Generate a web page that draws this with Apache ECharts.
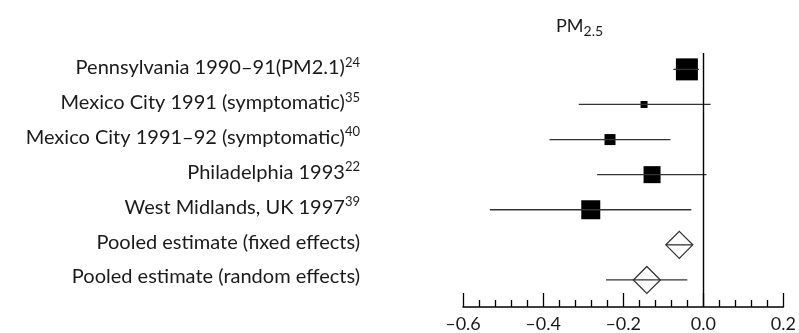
<!DOCTYPE html>
<html>
<head>
<meta charset="utf-8">
<script src="https://cdn.jsdelivr.net/npm/echarts@6/dist/echarts.min.js"></script>
<style>
  html, body { margin: 0; padding: 0; background: #fff; }
  #chart { width: 799px; height: 333px; }
</style>
</head>
<body>
<div id="chart"></div>
<script>
// studies + pooled rows, top to bottom
const studyNames = [
  'Pennsylvania 1990–91(PM2.1)',
  'Mexico City 1991 (symptomatic)',
  'Mexico City 1991–92 (symptomatic)',
  'Philadelphia 1993',
  'West Midlands, UK 1997',
  'Pooled estimate (fixed effects)',
  'Pooled estimate (random effects)'
];
const refs = ['24', '35', '40', '22', '39', '', ''];

// point estimates and confidence limits
const estimates = [-0.041, -0.148, -0.233, -0.128, -0.281, -0.060, -0.141];
const lower = [-0.075, -0.311, -0.384, -0.265, -0.533, -0.093, -0.243];
const upper = [-0.011, 0.018, -0.082, 0.008, -0.030, -0.027, -0.040];
// relative study weights (square size)
const weights = [22, 7, 11, 17, 19];

const FONT = 'Lato';
const chart = echarts.init(document.getElementById('chart'));

const squareData = weights.map((w, i) => ({ value: [estimates[i], i], symbolSize: w }));
const diamondData = [5, 6].map(i => [estimates[i], i]);
const ciData = estimates.map((e, i) => [lower[i], upper[i], i]);

chart.setOption({
  animation: false,
  title: {
    text: '{a|PM}{b|2.5}',
    left: 551,
    top: 9,
    textStyle: {
      rich: {
        a: { fontFamily: FONT, fontSize: 18, fontWeight: 'normal', color: '#1a1a1a' },
        b: { fontFamily: FONT, fontSize: 14, fontWeight: 'normal', color: '#1a1a1a', padding: [10, 0, 0, 0] }
      }
    }
  },
  grid: [
    { left: 463, right: 11, top: 53, bottom: 24 },
    { left: 362, width: 1, top: 50.6, bottom: 38.6 }
  ],
  xAxis: [
    {
      gridIndex: 0,
      type: 'value',
      min: -0.6,
      max: 0.2,
      interval: 0.2,
      splitLine: { show: false },
      axisLine: { onZero: false, lineStyle: { color: '#000', width: 1.5 } },
      axisTick: { inside: true, length: 14, lineStyle: { color: '#000', width: 1.3 } },
      minorTick: { show: true, splitNumber: 5, length: 7, lineStyle: { color: '#000', width: 1.3 } },
      axisLabel: {
        margin: 8,
        fontFamily: FONT,
        fontSize: 18,
        color: '#1a1a1a',
        formatter: v => (v < -1e-9 ? '–' : '') + Math.abs(v).toFixed(1)
      }
    },
    { gridIndex: 1, type: 'value', show: false }
  ],
  yAxis: [
    {
      gridIndex: 0,
      type: 'value',
      inverse: true,
      min: -0.4665,
      max: 6.771,
      show: false
    },
    {
      gridIndex: 1,
      type: 'category',
      inverse: true,
      data: studyNames,
      axisLine: { show: false },
      axisTick: { show: false },
      axisLabel: {
        margin: 2,
        formatter: (v, i) => refs[i] ? '{n|' + v + '}{s|' + refs[i] + '}' : '{n|' + v + '}',
        rich: {
          n: { fontFamily: FONT, fontSize: 20, color: '#1a1a1a' },
          s: { fontFamily: FONT, fontSize: 13, color: '#1a1a1a', padding: [0, 0, 11, 0] }
        }
      }
    }
  ],
  series: [
    {
      type: 'scatter',
      xAxisIndex: 0,
      yAxisIndex: 0,
      symbol: 'rect',
      data: squareData,
      itemStyle: { color: '#000', opacity: 1 },
      z: 3,
      markLine: {
        silent: true,
        symbol: 'none',
        label: { show: false },
        lineStyle: { color: '#000', width: 1.4, type: 'solid' },
        data: [{ xAxis: 0 }]
      }
    },
    {
      type: 'scatter',
      xAxisIndex: 0,
      yAxisIndex: 0,
      symbol: 'diamond',
      symbolSize: [27, 27],
      data: diamondData,
      itemStyle: { color: '#fff', borderColor: '#333', borderWidth: 1.3, opacity: 1 },
      z: 3
    },
    {
      type: 'custom',
      xAxisIndex: 0,
      yAxisIndex: 0,
      data: ciData,
      z: 4,
      renderItem: (params, api) => {
        const a = api.coord([api.value(0), api.value(2)]);
        const b = api.coord([api.value(1), api.value(2)]);
        return {
          type: 'line',
          shape: { x1: a[0], y1: a[1], x2: b[0], y2: b[1] },
          style: { stroke: '#333', lineWidth: 1.3 }
        };
      }
    }
  ]
});
</script>
</body>
</html>
